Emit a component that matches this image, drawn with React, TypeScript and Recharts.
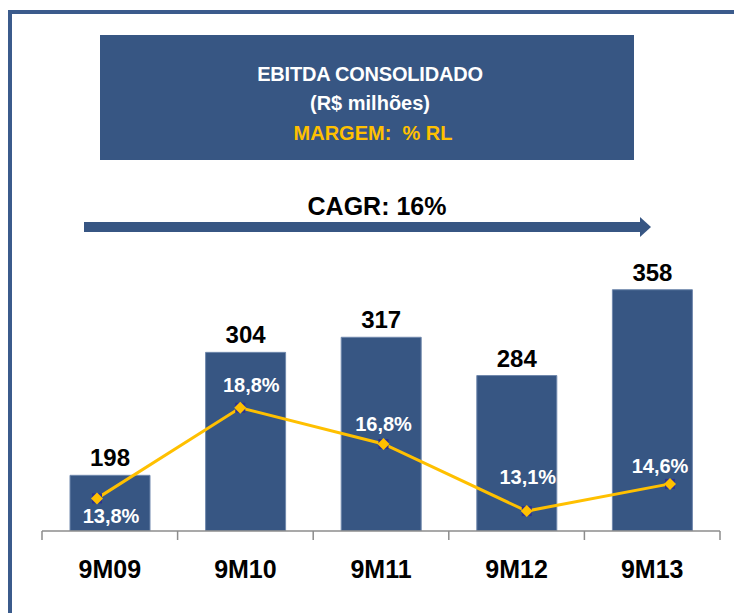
import { ComposedChart, Bar, Line, XAxis, YAxis, LabelList } from 'recharts';

const periods = ['9M09', '9M10', '9M11', '9M12', '9M13'];
const ebitda = [198, 304, 317, 284, 358];
const margem = [13.8, 18.8, 16.8, 13.1, 14.6];

const data = periods.map((period, i) => ({
  period,
  ebitda: ebitda[i],
  margem: margem[i],
}));

const BLUE = '#375683';
const YELLOW = '#FFC000';
const FONT = '"Liberation Sans", Arial, sans-serif';

const CHART_W = 734;
const CHART_H = 613;
const MARGIN = { top: 241, right: 14, bottom: 32, left: 42 };
const BAND = (CHART_W - MARGIN.left - MARGIN.right) / periods.length;

// where each % label sits relative to its point
const pctLabelOffsets = [
  [14, 18],
  [11, -23],
  [0, -20],
  [1, -34],
  [-10, -18],
];

const formatPct = (v: number) => `${v.toFixed(1).replace('.', ',')}%`;

const PeriodTick = (props: any) => {
  const { x, y, payload, index } = props;
  return (
    <g>
      <line x1={x - BAND / 2} x2={x - BAND / 2} y1={y} y2={y + 9} stroke="#8c8c8c" strokeWidth={1.5} />
      {index === periods.length - 1 && (
        <line x1={x + BAND / 2} x2={x + BAND / 2} y1={y} y2={y + 9} stroke="#8c8c8c" strokeWidth={1.5} />
      )}
      <text x={x} y={y + 47} textAnchor="middle" fontSize={25} fontWeight="bold" fill="#000" fontFamily={FONT}>
        {payload.value}
      </text>
    </g>
  );
};

const MarginDot = (props: any) => {
  const { cx, cy, index } = props;
  if (cx == null || cy == null) return null;
  return (
    <g key={`dot-${index}`}>
      <rect x={cx - 5} y={cy - 5} width={10} height={10} fill="#2E3192" />
      <polygon points={`${cx},${cy - 6} ${cx + 6},${cy} ${cx},${cy + 6} ${cx - 6},${cy}`} fill={YELLOW} />
    </g>
  );
};

const MarginLabel = (props: any) => {
  const { x, y, value, index } = props;
  const [dx, dy] = pctLabelOffsets[index] || [0, -18];
  return (
    <text
      x={x + dx}
      y={y + dy}
      textAnchor="middle"
      dominantBaseline="central"
      fontSize={20}
      fontWeight="bold"
      fill="#fff"
      fontFamily={FONT}
    >
      {formatPct(Number(value))}
    </text>
  );
};

const titleLine = {
  position: 'absolute' as const,
  left: 100,
  width: 540,
  lineHeight: '24px',
  textAlign: 'center' as const,
  fontWeight: 'bold',
  fontSize: 20,
  whiteSpace: 'pre' as const,
};

const App = () => {
  return (
    <div
      style={{
        position: 'absolute',
        left: 0,
        top: 0,
        width: CHART_W,
        height: CHART_H,
        background: '#fff',
        fontFamily: FONT,
        overflow: 'hidden',
      }}
    >
      {/* frame */}
      <div style={{ position: 'absolute', left: 8, top: 10, width: CHART_W - 8, height: 4, background: '#3b5b8c' }} />
      <div style={{ position: 'absolute', left: 8, top: 10, width: 4, height: CHART_H - 10, background: '#3b5b8c' }} />

      {/* title box */}
      <div style={{ position: 'absolute', left: 100, top: 35, width: 534, height: 125, background: BLUE }} />
      <div style={{ ...titleLine, top: 62, color: '#fff', letterSpacing: -0.2 }}>EBITDA CONSOLIDADO</div>
      <div style={{ ...titleLine, top: 91, color: '#fff' }}>(R$ milhões)</div>
      <div style={{ ...titleLine, top: 121, left: 103, color: YELLOW }}>{'MARGEM:  % RL'}</div>

      {/* CAGR arrow */}
      <div style={{ position: 'absolute', left: 100, width: 554, top: 192, lineHeight: '28px', textAlign: 'center', color: '#000', fontWeight: 'bold', fontSize: 25 }}>
        CAGR: 16%
      </div>
      <svg style={{ position: 'absolute', left: 0, top: 0 }} width={CHART_W} height={260}>
        <rect x={84} y={222} width={557} height={10} fill={BLUE} />
        <polygon points="640,217 651,227 640,237" fill={BLUE} />
      </svg>

      <div style={{ position: 'absolute', left: 0, top: 0 }}>
        <ComposedChart width={CHART_W} height={CHART_H} data={data} margin={MARGIN}>
          <XAxis
            dataKey="period"
            xAxisId="bars"
            height={50}
            axisLine={{ stroke: '#8c8c8c', strokeWidth: 1.5 }}
            tickLine={false}
            tickSize={0}
            tickMargin={0}
            interval={0}
            tick={<PeriodTick />}
          />
          <XAxis dataKey="period" xAxisId="line" scale="point" padding={{ left: 55, right: 50 }} hide />
          <YAxis yAxisId="left" domain={[150, 400]} allowDataOverflow hide />
          <YAxis yAxisId="right" orientation="right" domain={[12, 28]} allowDataOverflow hide />
          <Bar
            dataKey="ebitda"
            xAxisId="bars"
            yAxisId="left"
            barSize={80}
            fill={BLUE}
            stroke="#7088ad"
            strokeWidth={1}
            isAnimationActive={false}
          >
            <LabelList
              dataKey="ebitda"
              position="top"
              offset={9}
              fill="#000"
              fontSize={24}
              fontWeight="bold"
              fontFamily={FONT}
            />
          </Bar>
          <Line
            dataKey="margem"
            xAxisId="line"
            yAxisId="right"
            stroke={YELLOW}
            strokeWidth={3}
            dot={<MarginDot />}
            activeDot={false}
            label={<MarginLabel />}
            isAnimationActive={false}
          />
        </ComposedChart>
      </div>
    </div>
  );
};

export default App;
